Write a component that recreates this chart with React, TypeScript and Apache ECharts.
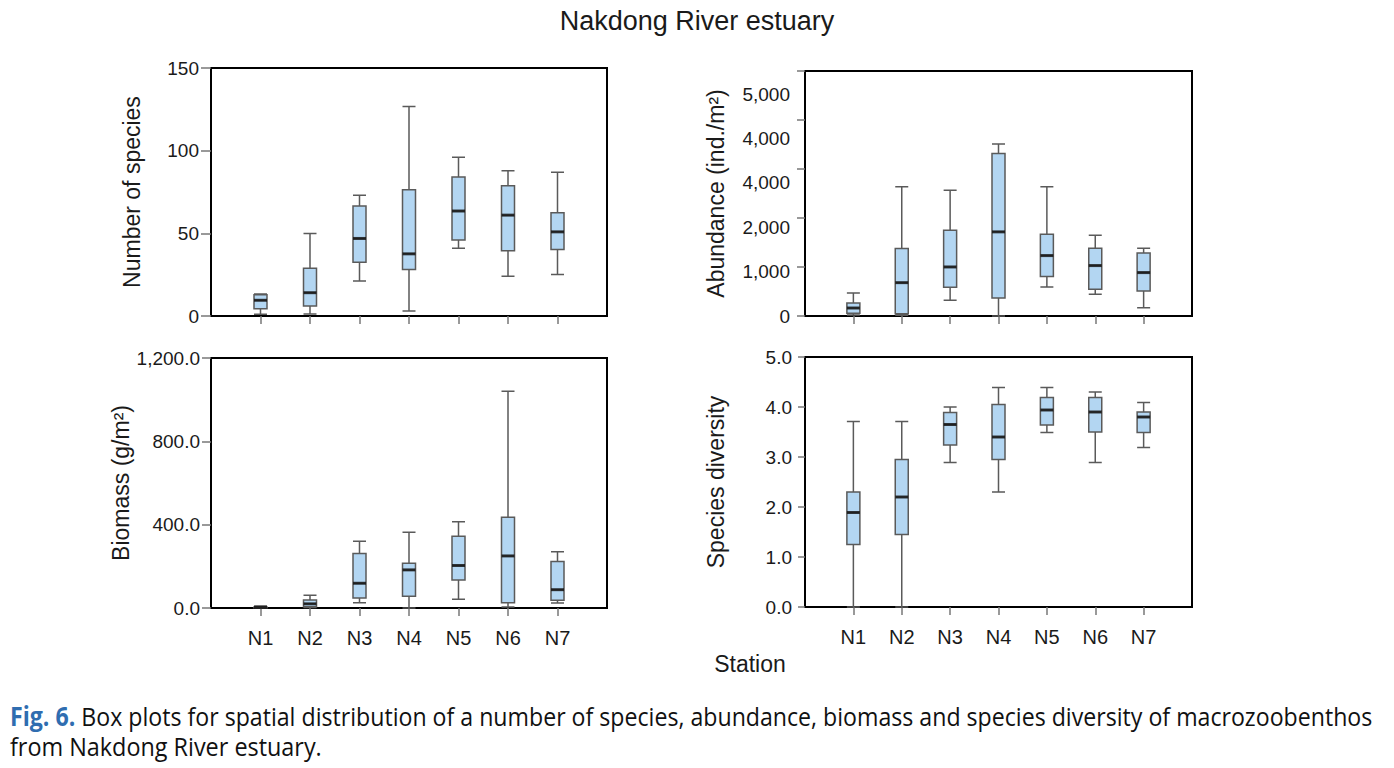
import React, { useEffect, useRef } from "react";
import * as echarts from "echarts";

const TITLE = "Nakdong River estuary";
const STATIONS = ["N1", "N2", "N3", "N4", "N5", "N6", "N7"];
const AXIS_CATS = ["", ...STATIONS, " "];

// Number of species
const SPECIES_MIN = [1, 1.2, 21.2, 3, 41, 24, 25.1];
const SPECIES_Q1 = [4.4, 6.1, 32.5, 28.1, 45.9, 39.4, 40.2];
const SPECIES_MED = [9.5, 14.1, 46.9, 37.6, 63.5, 61, 50.9];
const SPECIES_Q3 = [12.9, 28.9, 66.5, 76.4, 84.1, 78.8, 62.5];
const SPECIES_MAX = [13.3, 49.9, 73, 126.7, 96, 87.9, 86.9];

// Abundance (ind./m2), measured against the tick marks
const ABUND_MIN = [20, 14, 320, 0, 593, 443, 170];
const ABUND_Q1 = [54, 48, 586, 368, 804, 545, 511];
const ABUND_MED = [163, 681, 1001, 1717, 1233, 1029, 886];
const ABUND_Q3 = [266, 1376, 1751, 3317, 1669, 1383, 1287];
const ABUND_MAX = [470, 2636, 2568, 3508, 2636, 1649, 1383];
const ABUND_TICK_LABELS = ["0", "1,000", "2,000", "4,000", "4,000", "5,000"];

// Biomass (g/m2)
const BIO_MIN = [0, 2, 25.7, 0, 42, 5, 24];
const BIO_Q1 = [1, 6, 48, 56, 135, 25.7, 37];
const BIO_MED = [3, 20, 118.7, 183, 204, 250, 88];
const BIO_Q3 = [5, 38.5, 261.5, 215, 345, 436, 223];
const BIO_MAX = [9.6, 61, 321, 364, 414, 1040, 269.5];

// Species diversity
const DIV_MIN = [0, 0, 2.89, 2.3, 3.49, 2.89, 3.19];
const DIV_Q1 = [1.25, 1.45, 3.24, 2.95, 3.64, 3.5, 3.49];
const DIV_MED = [1.89, 2.2, 3.65, 3.4, 3.94, 3.9, 3.8];
const DIV_Q3 = [2.3, 2.95, 3.89, 4.05, 4.19, 4.19, 3.9];
const DIV_MAX = [3.71, 3.71, 4.0, 4.39, 4.39, 4.3, 4.09];

const Y_NAMES = ["Number of species", "Abundance (ind./m²)", "Biomass (g/m²)", "Species diversity"];
const X_NAME = "Station";
const CAPTION_LEAD = "Fig. 6.";
const CAPTION_1 = " Box plots for spatial distribution of a number of species, abundance, biomass and species diversity of macrozoobenthos";
const CAPTION_2 = "from Nakdong River estuary.";

const FONT = "'Liberation Sans', Arial, sans-serif";
const CAP_FONT = "'Open Sans', 'Noto Sans', sans-serif";
const FILL = "#b3d6f2";
const EDGE = "#5a5a5a";

function boxData(mn: number[], q1: number[], md: number[], q3: number[], mx: number[]) {
  return STATIONS.map((_, i) => [i + 1, mn[i], q1[i], md[i], q3[i], mx[i]]);
}
function medData(md: number[]) {
  return STATIONS.map((_, i) => [i + 1, md[i]]);
}

export default function App() {
  const ref = useRef<HTMLDivElement>(null);
  useEffect(() => {
    if (!ref.current) return;
    const chart = echarts.init(ref.current, undefined, { renderer: "svg" });

    const grids = [
      { left: 211, top: 68, width: 396, height: 248 },
      { left: 805, top: 71, width: 387, height: 245 },
      { left: 211, top: 358, width: 396, height: 250 },
      { left: 805, top: 357, width: 387, height: 250 },
    ].map((g) => ({ ...g, show: true, borderColor: "#000", borderWidth: 2, backgroundColor: "transparent" }));

    const hideBlank = (idx: number) => idx > 0 && idx < AXIS_CATS.length - 1;

    const xAxes = [0, 1, 2, 3].map((g) => ({
      type: "category",
      gridIndex: g,
      data: AXIS_CATS,
      boundaryGap: false,
      axisLine: { lineStyle: { color: "#000", width: 2 } },
      axisTick: { show: true, length: 8, interval: (i: number) => hideBlank(i), lineStyle: { color: "#777", width: 1.5 } },
      axisLabel: {
        show: g >= 2,
        interval: (i: number) => hideBlank(i),
        margin: 20,
        fontSize: 20,
        fontFamily: FONT,
        color: "#1a1a1a",
      },
      splitLine: { show: false },
    }));

    const yBase = (g: number, tickLen: number) => ({
      type: "value",
      gridIndex: g,
      position: "left",
      axisLine: { show: true, lineStyle: { color: "#000", width: 2 } },
      axisTick: { show: true, length: tickLen, lineStyle: { color: "#777", width: 1.5 } },
      splitLine: { show: false },
      nameLocation: "middle",
      nameTextStyle: { fontSize: 23, fontFamily: FONT, color: "#1a1a1a" },
    });
    const labelStyle = { fontSize: 19, fontFamily: FONT, color: "#1a1a1a" };

    const yAxes: any[] = [
      {
        ...yBase(0, 10),
        min: 0,
        max: 150,
        interval: 50,
        name: Y_NAMES[0],
        nameGap: 68,
        axisLabel: { ...labelStyle, margin: 12 },
      },
      {
        ...yBase(1, 8),
        min: 0,
        max: 5000,
        interval: 1000,
        name: Y_NAMES[1],
        nameGap: 78,
        axisLabel: { show: false },
      },
      {
        ...yBase(2, 9),
        min: 0,
        max: 1200,
        interval: 400,
        name: Y_NAMES[2],
        nameGap: 70,
        axisLabel: {
          ...labelStyle,
          margin: 11,
          formatter: (v: number) => v.toLocaleString("en-US", { minimumFractionDigits: 1, maximumFractionDigits: 1 }),
        },
      },
      {
        ...yBase(3, 7),
        min: 0,
        max: 5,
        interval: 1,
        name: Y_NAMES[3],
        nameGap: 78,
        axisLabel: { ...labelStyle, margin: 13, formatter: (v: number) => v.toFixed(1) },
      },
      {
        type: "value",
        gridIndex: 1,
        position: "left",
        min: 0,
        max: 5520,
        interval: 1000,
        axisLine: { show: false },
        axisTick: { show: false },
        splitLine: { show: false },
        axisLabel: {
          ...labelStyle,
          margin: 15,
          showMaxLabel: false,
          formatter: (v: number) => (v % 1000 === 0 && ABUND_TICK_LABELS[v / 1000] !== undefined ? ABUND_TICK_LABELS[v / 1000] : ""),
        },
      },
    ];

    const panels = [
      { g: 0, y: 0, d: boxData(SPECIES_MIN, SPECIES_Q1, SPECIES_MED, SPECIES_Q3, SPECIES_MAX), m: medData(SPECIES_MED) },
      { g: 1, y: 1, d: boxData(ABUND_MIN, ABUND_Q1, ABUND_MED, ABUND_Q3, ABUND_MAX), m: medData(ABUND_MED) },
      { g: 2, y: 2, d: boxData(BIO_MIN, BIO_Q1, BIO_MED, BIO_Q3, BIO_MAX), m: medData(BIO_MED) },
      { g: 3, y: 3, d: boxData(DIV_MIN, DIV_Q1, DIV_MED, DIV_Q3, DIV_MAX), m: medData(DIV_MED) },
    ];

    const series: any[] = [];
    panels.forEach((p) => {
      series.push({
        type: "boxplot",
        xAxisIndex: p.g,
        yAxisIndex: p.y,
        data: p.d,
        encode: { x: 0, y: [1, 2, 3, 4, 5] },
        boxWidth: [13, 13],
        itemStyle: { color: FILL, borderColor: EDGE, borderWidth: 1.5 },
        silent: true,
      });
      series.push({
        type: "scatter",
        xAxisIndex: p.g,
        yAxisIndex: p.y,
        data: p.m,
        symbol: "rect",
        symbolSize: [13, 3],
        itemStyle: { color: "#111" },
        silent: true,
        z: 5,
      });
    });

    chart.setOption({
      animation: false,
      backgroundColor: "#fff",
      title: [
        {
          text: TITLE,
          left: "center",
          top: 7,
          padding: 0,
          textStyle: { fontFamily: FONT, fontSize: 27, fontWeight: "normal", color: "#1a1a1a" },
        },
        {
          text: X_NAME,
          left: 750,
          top: 652,
          padding: 0,
          textAlign: "center",
          textStyle: { fontFamily: FONT, fontSize: 23, fontWeight: "normal", color: "#1a1a1a" },
        },
      ],
      graphic: [
        {
          type: "text",
          x: 10,
          y: 716,
          scaleX: 0.89,
          silent: true,
          style: {
            text: "{a|" + CAPTION_LEAD + "}" + CAPTION_1,
            font: "26px " + CAP_FONT,
            fill: "#111",
            textVerticalAlign: "middle",
            rich: {
              a: { fill: "#2f6db0", fontWeight: "bold", fontSize: 26, fontFamily: CAP_FONT },
            },
          },
        },
        {
          type: "text",
          x: 10,
          y: 746,
          scaleX: 0.9,
          silent: true,
          style: {
            text: CAPTION_2,
            font: "26px " + CAP_FONT,
            fill: "#111",
            textVerticalAlign: "middle",
          },
        },
      ],
      grid: grids,
      xAxis: xAxes,
      yAxis: yAxes,
      series,
    });
    return () => chart.dispose();
  }, []);
  return (
    <div
      ref={ref}
      style={{ position: "fixed", left: 0, top: 0, width: 1394, height: 768, background: "#fff" }}
    />
  );
}
